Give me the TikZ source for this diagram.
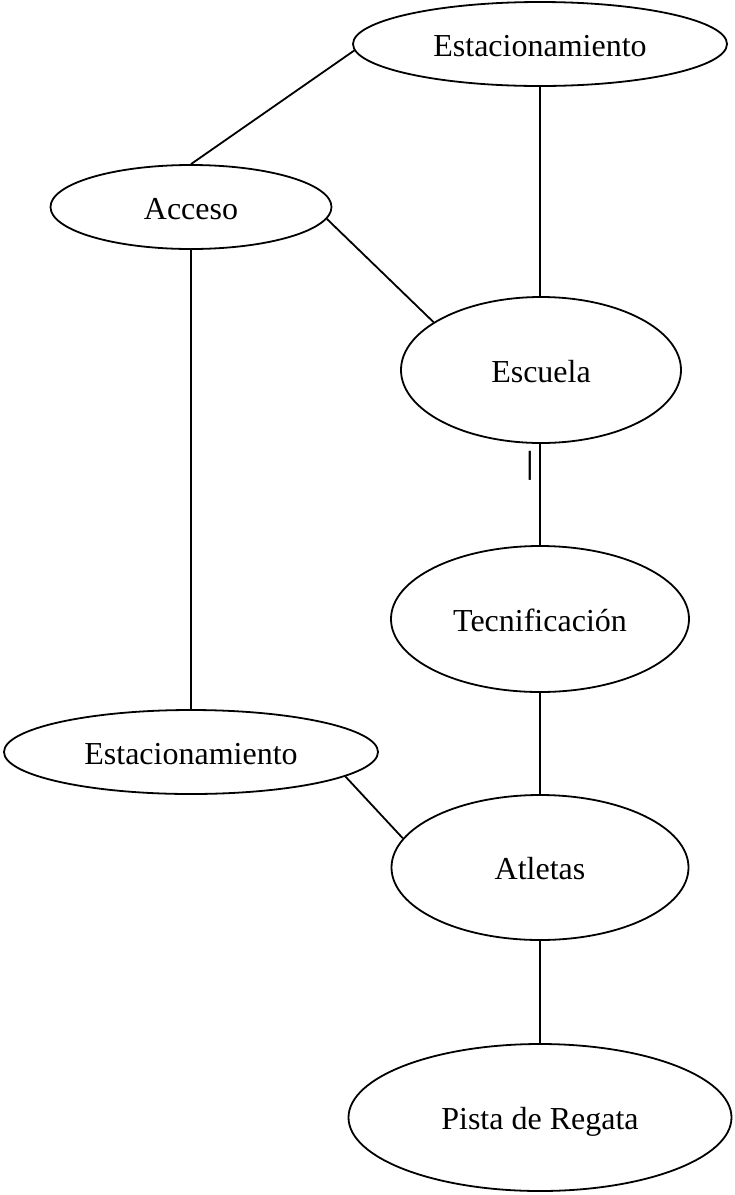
\documentclass[tikz,border=0pt]{standalone}
\usepackage{fontspec}
\setmainfont{Liberation Serif}
\usetikzlibrary{shapes.geometric}
\begin{document}
\begin{tikzpicture}[x=1pt,y=-1pt,
  ell/.style={draw,ellipse,line width=1.8pt,inner sep=0pt,text height=24pt,text depth=0pt,font=\fontsize{32}{38}\selectfont},
  conn/.style={line width=1.8pt}]
\useasboundingbox (0,0) rectangle (735,1195);
\node[ell,minimum width=374pt,minimum height=84pt] (e1) at (540,44) {Estacionamiento};
\node[ell,minimum width=281pt,minimum height=84pt] (acc) at (191,207) {Acceso};
\node[ell,minimum width=280pt,minimum height=146pt] (esc) at (541,370) {Escuela};
\node[ell,minimum width=298pt,minimum height=146pt] (tec) at (540,619) {Tecnificación};
\node[ell,minimum width=374pt,minimum height=84pt] (e2) at (191,752) {Estacionamiento};
\node[ell,minimum width=297pt,minimum height=145pt] (atl) at (540,867.5) {Atletas};
\node[ell,minimum width=383pt,minimum height=147pt] (pis) at (540,1117.5) {Pista de Regata};
\node[inner sep=0pt,font=\fontsize{32}{38}\selectfont\bfseries] (bar) at (530,465.5) {|};
\draw[conn] (acc.north) -- (e1.182.4);
\draw[conn] (e1.south) -- (e1.south |- esc.north);
\draw[conn] (acc.-5.5) -- (esc.156.7);
\draw[conn] (acc.south) -- (e2.north);
\draw[conn] (tec.north |- esc.south) -- (tec.north);
\draw[conn] (tec.south) -- (atl.north);
\draw[conn] (e2.-9.3) -- (atl.168.8);
\draw[conn] (atl.south) -- (pis.north);
\end{tikzpicture}
\end{document}
